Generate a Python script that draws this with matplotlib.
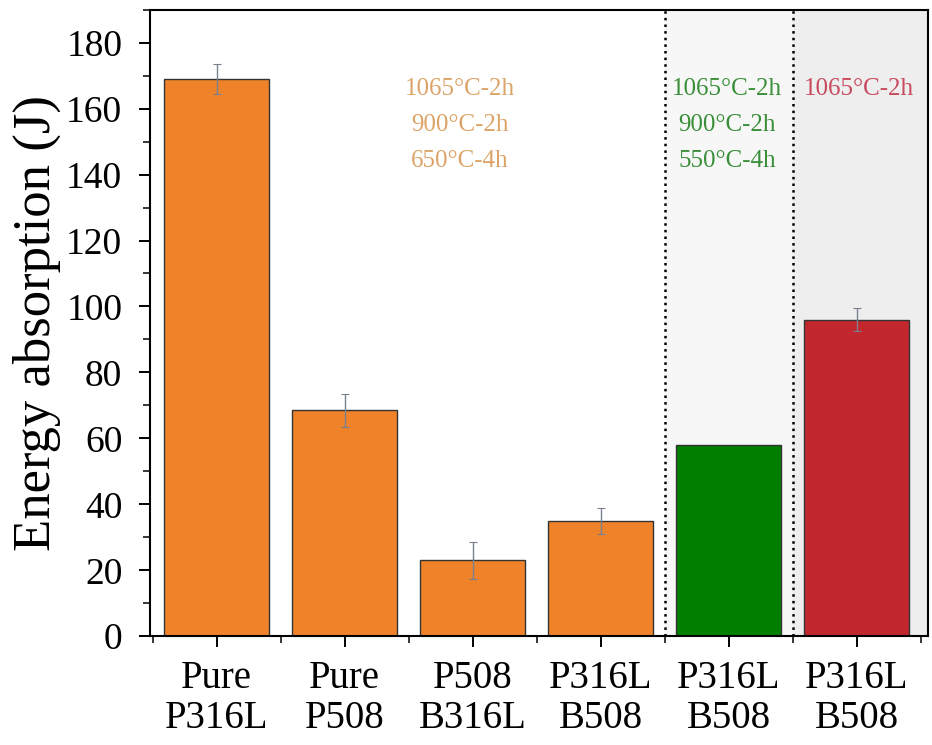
import matplotlib.pyplot as plt
from matplotlib.ticker import MultipleLocator

plt.rcParams['font.family'] = ['Liberation Serif', 'DejaVu Serif']

labels = ["Pure\nP316L", "Pure\nP508", "P508\nB316L", "P316L\nB508", "P316L\nB508", "P316L\nB508"]
energy = [169, 68.5, 23, 35, 58, 96]
err = [4.5, 5, 5.5, 4, 0, 3.5]
colors = ["#F0832A", "#F0832A", "#F0832A", "#F0832A", "#007F00", "#C1272D"]

notes_orange = ["1065°C-2h", "900°C-2h", "650°C-4h"]
notes_green = ["1065°C-2h", "900°C-2h", "550°C-4h"]
notes_red = ["1065°C-2h"]
note_y = [166, 155, 144]

fig = plt.figure(figsize=(9.32, 7.45), dpi=100)
ax = fig.add_axes([0.161, 0.146, 0.835, 0.841])

x = list(range(len(energy)))
ax.axvspan(3.5, 4.5, color="#F7F7F7", zorder=0)
ax.axvspan(4.5, 5.56, color="#EEEEEE", zorder=0)

ax.bar(x, energy, width=0.82, color=colors, edgecolor="#333333", linewidth=1.0, zorder=2)
for xi, v, e in zip(x, energy, err):
    if e > 0:
        ax.errorbar(xi, v, yerr=e, color="#7A8090", elinewidth=1.0, capsize=3, capthick=0.8, zorder=3)

ax.axvline(3.5, color="black", linestyle=":", linewidth=1.8, zorder=4)
ax.axvline(4.5, color="black", linestyle=":", linewidth=1.8, zorder=4)

for t, y in zip(notes_orange, note_y):
    ax.text(1.9, y, t, color="#DCA468", fontsize=18, ha="center", va="center")
for t, y in zip(notes_green, note_y):
    ax.text(3.99, y, t, color="#3A8F3A", fontsize=18, ha="center", va="center")
for t, y in zip(notes_red, note_y):
    ax.text(5.02, y, t, color="#C84A5C", fontsize=18, ha="center", va="center")

ax.set_xlim(-0.52, 5.56)
ax.set_ylim(0, 190)
ax.set_xticks(x)
ax.set_xticklabels(labels, fontsize=28, linespacing=1.1)
ax.xaxis.set_minor_locator(MultipleLocator(0.5))
ax.yaxis.set_major_locator(MultipleLocator(20))
ax.yaxis.set_minor_locator(MultipleLocator(10))
ax.tick_params(axis="both", which="major", direction="out", length=8, width=1.4)
ax.tick_params(axis="both", which="minor", direction="out", length=5, width=1.1)
ax.tick_params(axis="y", which="major", labelsize=27, pad=12)
ax.tick_params(axis="x", which="major", pad=9)
ax.set_ylabel("Energy absorption (J)", fontsize=38, labelpad=4)
for s in ax.spines.values():
    s.set_linewidth(1.5)

fig.savefig("out.png", dpi=100)
